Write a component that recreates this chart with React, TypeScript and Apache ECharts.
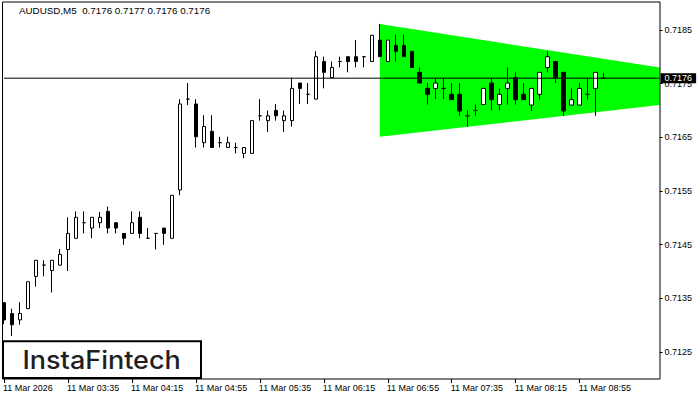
import React, { useEffect, useRef } from 'react';
import * as echarts from 'echarts';

const FONT = '"Liberation Sans", Arial, sans-serif';

const chartTitle = 'AUDUSD,M5  0.7176 0.7177 0.7176 0.7176';
const logoText = 'InstaFintech';

// M5 bars starting 11 Mar 02:55 (83 slots incl. chart shift)
const firstBarMinutes = 2 * 60 + 55;
const slotCount = 83;
const categories: string[] = Array.from({ length: slotCount }, (_, i) => {
  const m = firstBarMinutes + i * 5;
  const hh = String(Math.floor(m / 60)).padStart(2, '0');
  const mm = String(m % 60).padStart(2, '0');
  return `11 Mar ${hh}:${mm}`;
});

const opens = [
  0.71342, 0.71322, 0.7131, 0.71331, 0.71391, 0.71412, 0.71402, 0.71412, 0.71441, 0.71462,
  0.71491, 0.71481, 0.71491, 0.71512, 0.71491, 0.71471, 0.71471, 0.71501, 0.71462, 0.71471,
  0.71481, 0.71462, 0.71552, 0.71721, 0.71712, 0.7164, 0.71661, 0.7164, 0.71631, 0.71631,
  0.7162, 0.7162, 0.7169, 0.71681, 0.717, 0.71681, 0.71681, 0.71751, 0.7173, 0.71721,
  0.71791, 0.71761, 0.71791, 0.718, 0.718, 0.718, 0.71791, 0.71831, 0.71791, 0.71821,
  0.71821, 0.7181, 0.71771, 0.71741, 0.71741, 0.71741, 0.7173, 0.7173, 0.7169, 0.717,
  0.71711, 0.71751, 0.71711, 0.71741, 0.71761, 0.7173, 0.7171, 0.7173, 0.7178, 0.71791,
  0.71771, 0.7171, 0.7171, 0.7173, 0.71741, 0.7176,
];
const highs = [
  0.71342, 0.71331, 0.71343, 0.71381, 0.71421, 0.71421, 0.71421, 0.71442, 0.71501, 0.71512,
  0.71512, 0.71501, 0.71511, 0.71521, 0.71491, 0.71471, 0.71512, 0.71512, 0.71481, 0.71471,
  0.71481, 0.71542, 0.71721, 0.71751, 0.71721, 0.71691, 0.71691, 0.71651, 0.71651, 0.7164,
  0.71631, 0.71681, 0.71721, 0.717, 0.71712, 0.717, 0.71761, 0.71751, 0.71751, 0.7181,
  0.718, 0.71791, 0.718, 0.718, 0.71831, 0.718, 0.7184, 0.71861, 0.71831, 0.71841,
  0.71841, 0.7181, 0.7178, 0.71751, 0.7176, 0.7176, 0.71751, 0.71751, 0.717, 0.71711,
  0.71741, 0.7176, 0.71741, 0.7178, 0.71771, 0.71751, 0.71741, 0.71771, 0.7181, 0.71791,
  0.71771, 0.71741, 0.71751, 0.71761, 0.71771, 0.7177,
];
const lows = [
  0.71302, 0.7128, 0.71301, 0.71331, 0.71372, 0.71391, 0.71361, 0.71412, 0.71401, 0.71462,
  0.71471, 0.71462, 0.71481, 0.71471, 0.71471, 0.7145, 0.71471, 0.71462, 0.71462, 0.71441,
  0.7145, 0.71462, 0.71542, 0.7171, 0.71631, 0.71631, 0.71631, 0.71631, 0.71631, 0.7162,
  0.71611, 0.7162, 0.71681, 0.7166, 0.71681, 0.7166, 0.7167, 0.71712, 0.71712, 0.71721,
  0.71741, 0.71761, 0.7178, 0.71771, 0.7178, 0.7178, 0.71791, 0.718, 0.71791, 0.71791,
  0.718, 0.7178, 0.71751, 0.71711, 0.71721, 0.71721, 0.7172, 0.7169, 0.7167, 0.7169,
  0.71711, 0.717, 0.717, 0.71711, 0.71711, 0.7172, 0.71699, 0.7172, 0.71771, 0.71751,
  0.7169, 0.7171, 0.7171, 0.7172, 0.7169, 0.7176,
];
const closes = [
  0.7131, 0.71301, 0.71322, 0.71381, 0.71421, 0.71412, 0.71421, 0.71432, 0.71471, 0.71501,
  0.71491, 0.71501, 0.71501, 0.71481, 0.71481, 0.71462, 0.71491, 0.71471, 0.71462, 0.71471,
  0.71471, 0.71542, 0.71712, 0.71721, 0.71651, 0.7167, 0.71631, 0.7164, 0.7164, 0.71631,
  0.71631, 0.71681, 0.7169, 0.7169, 0.7169, 0.7169, 0.71741, 0.71741, 0.7173, 0.718,
  0.71771, 0.7178, 0.71791, 0.71791, 0.71791, 0.718, 0.7184, 0.718, 0.71831, 0.7181,
  0.718, 0.7178, 0.71751, 0.7173, 0.71751, 0.71741, 0.7172, 0.71699, 0.7169, 0.717,
  0.71741, 0.7172, 0.7173, 0.71751, 0.7172, 0.7172, 0.71741, 0.71771, 0.718, 0.71761,
  0.71699, 0.7172, 0.71741, 0.7173, 0.71771, 0.7176,
];

const currentPrice = 0.7176;
const yMin = 0.712;
const yMax = 0.719;
const yTicks = [0.7125, 0.7135, 0.7145, 0.7155, 0.7165, 0.7175, 0.7185];
const xTickEvery = 8;
const xTickLabels = [
  '11 Mar 2026', '11 Mar 03:35', '11 Mar 04:15', '11 Mar 04:55', '11 Mar 05:35',
  '11 Mar 06:15', '11 Mar 06:55', '11 Mar 07:35', '11 Mar 08:15', '11 Mar 08:55',
];

// Triangle pattern
const patternIdx = [47, 82];
const patternTop = [0.71861, 0.7178];
const patternBottom = [0.71651, 0.7171];

export default function App() {
  const ref = useRef<HTMLDivElement>(null);
  useEffect(() => {
    if (!ref.current) return;
    const chart = echarts.init(ref.current, undefined, { renderer: 'svg' });
    const candleData = opens.map((o, i) => [o, closes[i], lows[i], highs[i]]);
    const isTick = (index: number) =>
      index % xTickEvery === 0 && index / xTickEvery < xTickLabels.length;
    chart.setOption({
      animation: false,
      backgroundColor: '#ffffff',
      textStyle: { fontFamily: FONT },
      grid: { left: 3.6, right: 40.4, top: 3, bottom: 21, containLabel: false },
      xAxis: {
        type: 'category',
        data: categories,
        boundaryGap: false,
        axisLine: { show: false },
        splitLine: { show: false },
        axisTick: {
          show: true,
          length: 4,
          interval: (index: number) => isTick(index),
          lineStyle: { color: '#000', width: 1 },
        },
        axisLabel: {
          interval: (index: number) => isTick(index),
          formatter: (_v: string, index: number) =>
            isTick(index) ? xTickLabels[index / xTickEvery] : '',
          align: 'left',
          margin: 4,
          color: '#000',
          fontFamily: FONT,
          fontSize: 9,
          padding: [0, 0, 0, -1],
        },
      },
      yAxis: {
        type: 'value',
        position: 'right',
        min: yMin,
        max: yMax,
        scale: true,
        axisLine: { show: false },
        splitLine: { show: false },
        axisTick: {
          show: true,
          length: 3,
          customValues: yTicks,
          lineStyle: { color: '#000', width: 1 },
        },
        axisLabel: {
          customValues: yTicks,
          formatter: (v: number) => v.toFixed(4),
          margin: 5,
          color: '#000',
          fontFamily: FONT,
          fontSize: 9,
        },
      },
      series: [
        {
          type: 'custom',
          name: 'pattern',
          z: 1,
          silent: true,
          encode: { x: [0, 3], y: [1, 2, 4, 5] },
          data: [[patternIdx[0], patternTop[0], patternBottom[0], patternIdx[1], patternTop[1], patternBottom[1]]],
          renderItem: (_params: any, api: any) => {
            const a = api.coord([api.value(0), api.value(1)]);
            const b = api.coord([api.value(3), api.value(4)]);
            const c = api.coord([api.value(3), api.value(5)]);
            const d = api.coord([api.value(0), api.value(2)]);
            return {
              type: 'polygon',
              shape: { points: [a, b, c, d] },
              style: { fill: '#00ff00', stroke: 'none' },
            };
          },
        },
        {
          type: 'line',
          name: 'price',
          z: 4,
          silent: true,
          symbol: 'none',
          showSymbol: false,
          lineStyle: { color: '#000', width: 1, type: 'solid' },
          data: [
            [0, currentPrice],
            [slotCount - 1, currentPrice],
          ],
          endLabel: {
            show: true,
            distance: 1,
            formatter: () => currentPrice.toFixed(4),
            backgroundColor: '#000',
            color: '#fff',
            fontFamily: FONT,
            fontSize: 9,
            lineHeight: 10,
            padding: [0, 4, 0, 4],
          },
        },
        {
          type: 'candlestick',
          name: 'AUDUSD',
          z: 3,
          barWidth: 4,
          data: candleData,
          itemStyle: {
            color: '#ffffff',
            color0: '#000000',
            borderColor: '#000000',
            borderColor0: '#000000',
            borderColorDoji: '#000000',
            borderWidth: 1,
          },
        },
      ],
      graphic: [
        {
          type: 'rect',
          silent: true,
          z: 100,
          shape: { x: 2.5, y: 2, width: 657.5, height: 377 },
          style: { fill: 'none', stroke: '#000', lineWidth: 1 },
        },
        {
          type: 'text',
          silent: true,
          z: 100,
          x: 19,
          y: 10.5,
          style: {
            text: chartTitle,
            fill: '#000',
            font: `9.8px ${FONT}`,
            verticalAlign: 'middle',
            align: 'left',
          },
        },
        {
          type: 'rect',
          silent: true,
          z: 101,
          shape: { x: 3, y: 341.3, width: 198, height: 36.7 },
          style: { fill: '#fff', stroke: '#000', lineWidth: 2 },
        },
        {
          type: 'text',
          silent: true,
          z: 102,
          x: 22.5,
          y: 360,
          scaleX: 1.08,
          style: {
            text: logoText,
            fill: '#1f1f1f',
            font: `500 25px Inter, "Open Sans", sans-serif`,
            verticalAlign: 'middle',
            align: 'left',
          },
        },
      ],
    });
    return () => chart.dispose();
  }, []);
  return (
    <div
      ref={ref}
      style={{ position: 'fixed', left: 0, top: 0, width: 700, height: 400, background: '#fff' }}
    />
  );
}
